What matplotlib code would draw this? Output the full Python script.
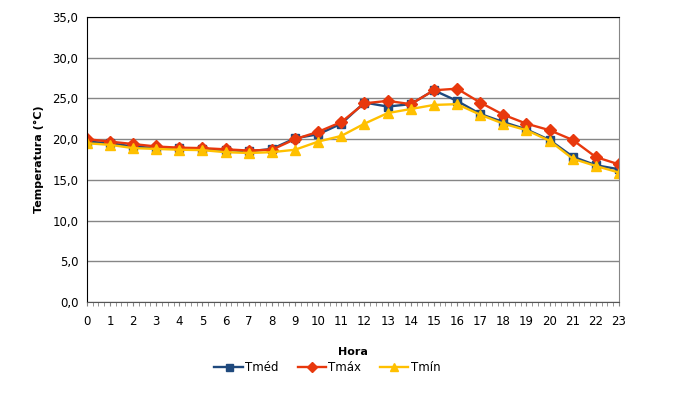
import matplotlib
matplotlib.use("Agg")
import matplotlib.pyplot as plt
from matplotlib.ticker import FuncFormatter, MultipleLocator

# --- data ---
horas = list(range(24))
t_med = [19.7, 19.5, 19.1, 18.9, 18.9, 18.75, 18.7, 18.5, 18.8, 20.1, 20.6, 21.9,
         24.5, 24.0, 24.3, 26.0, 24.7, 23.1, 22.1, 21.2, 19.9, 17.85, 16.8, 16.3]
t_max = [20.0, 19.7, 19.4, 19.1, 18.95, 18.9, 18.75, 18.6, 18.7, 20.0, 20.9, 22.1,
         24.4, 24.7, 24.3, 26.0, 26.2, 24.5, 23.0, 21.9, 21.1, 19.9, 17.8, 16.9]
t_min = [19.5, 19.3, 18.9, 18.8, 18.7, 18.65, 18.4, 18.3, 18.4, 18.7, 19.7, 20.4,
         21.9, 23.2, 23.7, 24.2, 24.3, 23.0, 21.9, 21.1, 19.8, 17.6, 16.7, 15.9]

C_MED = "#1F497D"
C_MAX = "#E8380D"
C_MIN = "#FFC000"

fig = plt.figure(figsize=(6.78, 4.03), dpi=100)
ax = fig.add_axes([0.128, 0.2506, 0.785, 0.7072])

ax.plot(horas, t_med, color=C_MED, linewidth=1.7, marker="s", markersize=6.3, label="Tméd")
ax.plot(horas, t_max, color=C_MAX, linewidth=1.7, marker="D", markersize=6, label="Tmáx")
ax.plot(horas, t_min, color=C_MIN, linewidth=1.7, marker="^", markersize=7, label="Tmín")

ax.set_xlim(0, 23)
ax.set_ylim(0, 35)
ax.set_xticks(horas)
ax.xaxis.set_minor_locator(MultipleLocator(0.25))
ax.yaxis.set_major_locator(MultipleLocator(5))
ax.yaxis.set_major_formatter(FuncFormatter(lambda v, p: f"{v:.1f}".replace(".", ",")))

ax.yaxis.grid(True, color="#868686", linewidth=1)
ax.set_axisbelow(True)
ax.tick_params(axis="y", length=0, labelsize=8.5, pad=6)
ax.tick_params(axis="x", which="both", direction="out", length=3, color="#868686",
               labelsize=8.5, pad=6)

ax.spines["left"].set_color("black")
ax.spines["bottom"].set_color("#555555")
ax.spines["top"].set_color("black")
ax.spines["right"].set_color("#868686")

ax.set_xlabel("Hora", fontsize=8, fontweight="bold", labelpad=14)
ax.set_ylabel("Temperatura (°C)", fontsize=8, fontweight="bold", labelpad=6)

fig.legend(loc="center", bbox_to_anchor=(0.483, 0.088), ncol=3, frameon=False,
           fontsize=8.5, handlelength=2.4, columnspacing=1.6, handletextpad=0.2,
           markerscale=0.8)

fig.savefig("out.png", dpi=100)
